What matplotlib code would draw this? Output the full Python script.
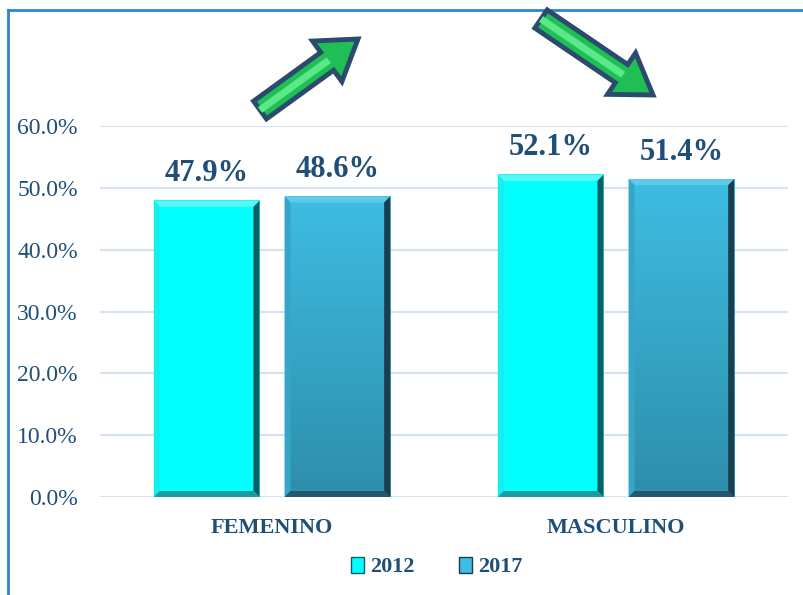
import matplotlib
matplotlib.use("Agg")
import matplotlib.pyplot as plt
import numpy as np
from matplotlib.patches import Polygon, FancyArrow
from matplotlib.lines import Line2D

categories = ["FEMENINO", "MASCULINO"]
years = ["2012", "2017"]
values_2012 = [0.479, 0.521]
values_2017 = [0.486, 0.514]
yticks = [0.0, 0.1, 0.2, 0.3, 0.4, 0.5, 0.6]

TXT = "#1F4E79"
SERIF = ["Liberation Serif", "DejaVu Serif"]

fig = plt.figure(figsize=(8.04, 5.95), dpi=100)
ax = fig.add_axes([100/804, 98/595, 688/804, 371/595])
ax.set_xlim(-0.5, 1.5)
ax.set_ylim(0, 0.6)

x = np.arange(len(categories))
w = 0.307
off = 0.19

styles = {
    "2012": dict(top="#00FFFF", bot="#00FFFF", hi="#5CF5F5", left="#14F0F0",
                 right="#0E5E64", bottom="#1A9C9E"),
    "2017": dict(top="#3EBDE2", bot="#2E8EAB", hi="#5ECBEA", left="#36A6C8",
                 right="#1B3E4E", bottom="#21586C"),
}

bx = 6 * (2.0 / 688)
by = 6 * (0.6 / 371)

def bevel_bar(xc, h, st):
    x0, x1 = xc - w/2, xc + w/2
    grad = np.linspace(0, 1, 100).reshape(-1, 1)
    c1 = np.array(matplotlib.colors.to_rgb(st["top"]))
    c2 = np.array(matplotlib.colors.to_rgb(st["bot"]))
    img = c1[None, None, :] * (1 - grad[..., None]) + c2[None, None, :] * grad[..., None]
    ax.imshow(img, extent=[x0, x1, 0, h], aspect="auto", zorder=2, origin="upper")
    ax.add_patch(Polygon([(x0, h), (x1, h), (x1 - bx, h - by), (x0 + bx, h - by)],
                         closed=True, fc=st["hi"], ec="none", zorder=3))
    ax.add_patch(Polygon([(x0, 0), (x0, h), (x0 + bx, h - by), (x0 + bx, by)],
                         closed=True, fc=st["left"], ec="none", zorder=3))
    ax.add_patch(Polygon([(x1, 0), (x1, h), (x1 - bx, h - by), (x1 - bx, by)],
                         closed=True, fc=st["right"], ec="none", zorder=3))
    ax.add_patch(Polygon([(x0, 0), (x1, 0), (x1 - bx, by), (x0 + bx, by)],
                         closed=True, fc=st["bottom"], ec="none", zorder=3))

for xi, v in zip(x - off, values_2012):
    bevel_bar(xi, v, styles["2012"])
    ax.text(xi, v + 0.02, f"{v*100:.1f}%", ha="center", va="bottom",
            fontsize=22, fontweight="bold", color=TXT, family=SERIF)
for xi, v in zip(x + off, values_2017):
    bevel_bar(xi, v, styles["2017"])
    ax.text(xi, v + 0.02, f"{v*100:.1f}%", ha="center", va="bottom",
            fontsize=22, fontweight="bold", color=TXT, family=SERIF)

ax.set_yticks(yticks)
ax.set_yticklabels([f"{t*100:.1f}%" for t in yticks], fontsize=17, color=TXT,
                   family=SERIF)
ax.set_xticks(x)
ax.set_xticklabels(categories, fontsize=16, fontweight="bold", color=TXT,
                   family=SERIF)
ax.tick_params(axis="both", length=0)
ax.tick_params(axis="y", pad=16)
ax.tick_params(axis="x", pad=15)
ax.yaxis.grid(True, color="#D5E2F3", linewidth=1.5, zorder=0)
ax.set_axisbelow(True)
for s in ax.spines.values():
    s.set_visible(False)

handles = [matplotlib.patches.Patch(facecolor=styles[y]["top"],
                                    edgecolor=styles[y]["right"], linewidth=1)
           for y in years]
leg = fig.legend(handles, years, loc="center", bbox_to_anchor=(437/804, 1 - 567/595),
                 ncol=2, frameon=False, handlelength=0.55, handleheight=0.75,
                 handletextpad=0.3, columnspacing=2.0,
                 prop=dict(family=SERIF, weight="bold", size=16))
for t in leg.get_texts():
    t.set_color(TXT)

ov = fig.add_axes([0, 0, 1, 1], zorder=5)
ov.set_xlim(0, 804)
ov.set_ylim(595, 0)
ov.axis("off")
ov.patch.set_alpha(0)
ov.add_line(Line2D([8, 8], [10, 595], color="#2A84D8", lw=2))
ov.add_line(Line2D([8, 804], [10, 10], color="#2A84D8", lw=2))

def arrow(x0, y0, x1, y1):
    dx, dy = x1 - x0, y1 - y0
    a = FancyArrow(x0, y0, dx, dy, width=22, head_width=50, head_length=38,
                   length_includes_head=True, fc="#1FBF55", ec="#2B4A6E", lw=3.5,
                   zorder=6)
    ov.add_patch(a)
    L = np.hypot(dx, dy)
    f = (L - 36) / L
    a2 = FancyArrow(x0, y0, dx * f, dy * f, width=7, head_width=0.1, head_length=0.1,
                    length_includes_head=True, fc="#5AE889", ec="none",
                    zorder=7)
    ov.add_patch(a2)

arrow(260, 110, 358, 39)
arrow(541, 19, 653, 95)

fig.savefig("out.png", dpi=100)
